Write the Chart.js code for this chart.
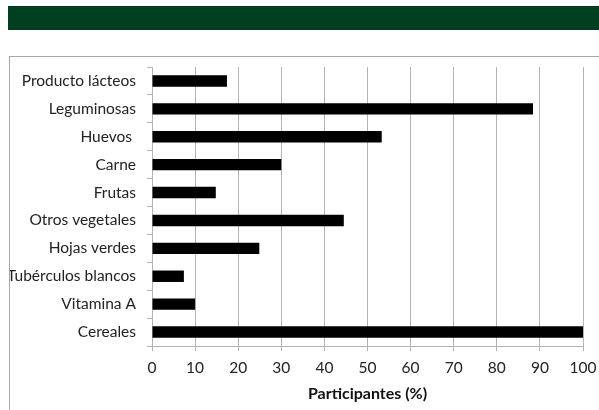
<!DOCTYPE html>
<html>
<head>
<meta charset="utf-8">
<script src="https://cdn.jsdelivr.net/npm/chart.js@4/dist/chart.umd.min.js"></script>
<style>
  html, body { margin: 0; padding: 0; background: #fff; }
  body { width: 599px; height: 410px; position: relative; overflow: hidden; }
  #banner { position: absolute; left: 8px; top: 6px; width: 591px; height: 24px; background: #013f21; }
  #frame { position: absolute; left: 9px; top: 56px; width: 620px; height: 420px; border: 1px solid #a8a8a8; box-sizing: border-box; }
  #chart { position: absolute; left: 0; top: 0; clip-path: inset(0 0 0 10px); }
</style>
</head>
<body>
<div id="banner"></div>
<div id="frame"></div>
<canvas id="chart" width="599" height="410"></canvas>
<script>
// Food groups consumed by participants (%)
const categories = [
  'Producto lácteos', 'Leguminosas', 'Huevos ', 'Carne', 'Frutas',
  'Otros vegetales', 'Hojas verdes', 'Tubérculos blancos', 'Vitamina A', 'Cereales'
];
const participantes = [17.4, 88.4, 53.3, 30, 14.8, 44.5, 24.9, 7.4, 10, 100];
const axisTitle = 'Participantes (%)';

const family = 'Lato, "Open Sans", sans-serif';
const gridGray = '#b4b4b4';

new Chart(document.getElementById('chart'), {
  type: 'bar',
  data: {
    labels: categories,
    datasets: [{
      data: participantes,
      backgroundColor: '#000',
      borderWidth: 0,
      categoryPercentage: 1,
      barPercentage: 0.41
    }]
  },
  options: {
    indexAxis: 'y',
    responsive: false,
    animation: false,
    devicePixelRatio: 1,
    layout: { padding: { top: 67, right: 16, left: 0, bottom: 0 } },
    plugins: { legend: { display: false }, tooltip: { enabled: false } },
    scales: {
      x: {
        min: 0, max: 100,
        ticks: { stepSize: 10, color: '#222', font: { family, size: 15.5 }, padding: 8 },
        grid: { color: gridGray, tickColor: gridGray, tickLength: 5, lineWidth: 1 },
        border: { color: gridGray },
        title: {
          display: true, text: axisTitle, color: '#111',
          font: { family, size: 16, weight: 'bold' },
          padding: { top: 0, bottom: 7 }
        },
        afterFit(scale) { scale.height = 64; scale.paddingLeft = 0; scale.paddingRight = 0; }
      },
      y: {
        ticks: { color: '#222', font: { family, size: 15.5 }, padding: 11 },
        grid: { drawOnChartArea: false, offset: true, tickColor: gridGray, tickLength: 5 },
        border: { color: gridGray },
        afterFit(scale) { scale.width = 152; }
      }
    }
  }
});
</script>
</body>
</html>
